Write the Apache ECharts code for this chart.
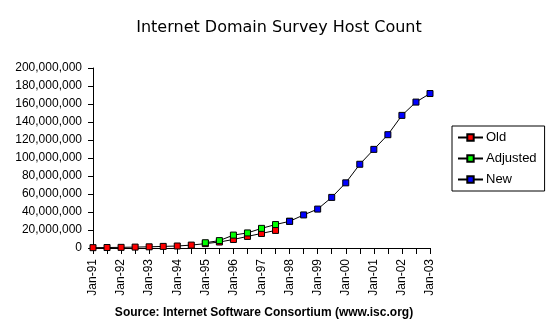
<!DOCTYPE html>
<html>
<head>
<meta charset="utf-8">
<script src="https://cdn.jsdelivr.net/npm/echarts@6/dist/echarts.min.js"></script>
<style>html,body{margin:0;padding:0;background:#fff}#c{width:549px;height:332px}</style>
</head>
<body>
<div id="c"></div>
<script>
var categories = ['Jan-91','Jul-91','Jan-92','Jul-92','Jan-93','Jul-93','Jan-94','Jul-94','Jan-95','Jul-95','Jan-96','Jul-96','Jan-97','Jul-97','Jan-98','Jul-98','Jan-99','Jul-99','Jan-00','Jul-00','Jan-01','Jul-01','Jan-02','Jul-02','Jan-03'];
var oldHosts = [376000,535000,727000,992000,1313000,1776000,2217000,3212000,4852000,6642000,9472000,12881000,16146000,19540000,null,null,null,null,null,null,null,null,null,null,null];
var adjustedHosts = [null,null,null,null,null,null,null,null,5846000,8200000,14352000,16729000,21819000,26053000,29670000,null,null,null,null,null,null,null,null,null,null];
var newHosts = [null,null,null,null,null,null,null,null,null,null,null,null,null,null,29670000,36739000,43230000,56218000,72398000,93047000,109574000,125888000,147345000,162128000,171638000];
var yTicks = {min:0, max:200000000, interval:20000000};

var font = 'Arial, "Liberation Sans", sans-serif';
function fmt(v){return String(v).replace(/\B(?=(\d{3})+(?!\d))/g, ',');}
function mk(name, data, color, z){
  return {name:name, type:'line', data:data, z:z, symbol:'rect', symbolSize:6,
    showAllSymbol:true, connectNulls:false, animation:false,
    lineStyle:{color:'#000', width:1},
    itemStyle:{color:color, borderColor:'#000', borderWidth:1}};
}
var chart = echarts.init(document.getElementById('c'));
chart.setOption({
  backgroundColor:'#fff',
  animation:false,
  title:[{text:'Internet Domain Survey Host Count', left:274, top:15, textAlign:'center',
    textStyle:{fontFamily:'"DejaVu Sans", sans-serif', fontSize:16, fontWeight:'normal', color:'#000'}},
    {text:'Source: Internet Software Consortium (www.isc.org)', left:259, top:302, textAlign:'center',
    textStyle:{fontFamily:font, fontSize:12, fontWeight:'bold', color:'#000'}}],
  legend:{orient:'vertical', left:452, top:126, width:91, height:63, padding:[5,8,5,5], itemGap:8,
    borderColor:'#000', borderWidth:1, borderRadius:0, itemWidth:25, itemHeight:8,
    textStyle:{fontFamily:font, fontSize:13, color:'#000', padding:[0,0,0,-2]},
    data:['Old','Adjusted','New']},
  grid:{left:93, right:119, top:68, bottom:84, containLabel:false},
  xAxis:{type:'category', data:categories, boundaryGap:false,
    axisLine:{lineStyle:{color:'#000', width:1}},
    axisTick:{show:true, interval:0, length:6, lineStyle:{color:'#000'}},
    axisLabel:{interval:1, rotate:90, margin:11, fontFamily:font, fontSize:12, color:'#000'},
    splitLine:{show:false}},
  yAxis:{type:'value', min:yTicks.min, max:yTicks.max, interval:yTicks.interval,
    axisLine:{show:true, lineStyle:{color:'#000', width:1}},
    axisTick:{show:true, length:5, lineStyle:{color:'#000'}},
    axisLabel:{formatter:fmt, margin:11, fontFamily:font, fontSize:12, color:'#000'},
    splitLine:{show:false}},
  series:[mk('Old', oldHosts, '#ff0000', 2), mk('Adjusted', adjustedHosts, '#00ff00', 3), mk('New', newHosts, '#0000ff', 4)]
});
</script>
</body>
</html>
